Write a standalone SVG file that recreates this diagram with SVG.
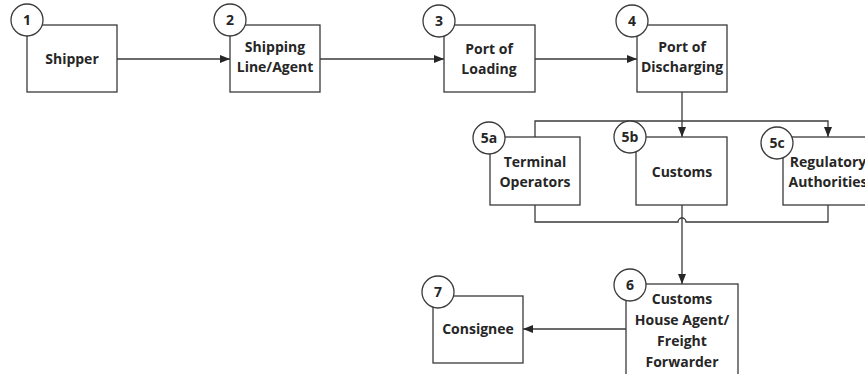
<svg xmlns="http://www.w3.org/2000/svg" width="865" height="374" viewBox="0 0 865 374">
<style>
.box{fill:#fff;stroke:#3a3a3a;stroke-width:1.3}
.num{fill:#fff;stroke:#3a3a3a;stroke-width:1.3}
.t{font-family:"Open Sans","Liberation Sans",sans-serif;font-weight:bold;font-size:14px;fill:#262626;text-anchor:middle}
.c{fill:none;stroke:#3a3a3a;stroke-width:1.3}
</style>
<defs>
<marker id="ah" viewBox="0 0 10 8" refX="10" refY="4" markerWidth="10" markerHeight="8" markerUnits="userSpaceOnUse" orient="auto">
<path d="M0,0 L10,4 L0,8 Z" fill="#262626"/>
</marker>
</defs>
<rect width="865" height="374" fill="#fff"/>
<g id="connectors">
<path class="c" d="M117,59 H230" marker-end="url(#ah)"/>
<path class="c" d="M320,59 H444" marker-end="url(#ah)"/>
<path class="c" d="M535,59 H637" marker-end="url(#ah)"/>
<path class="c" d="M682,92 V137" marker-end="url(#ah)"/>
<path class="c" d="M535,137 V121 H828 V137" marker-end="url(#ah)"/>
<path class="c" d="M535,205 V222 H678 A4,4 0 0 1 686,222 H828 V205"/>
<path class="c" d="M682,205 V284" marker-end="url(#ah)"/>
<path class="c" d="M626,329 H523" marker-end="url(#ah)"/>
</g>
<g id="n1">
<rect class="box" x="27" y="25" width="90" height="67"/>
<circle class="num" cx="27" cy="20" r="16"/>
<text class="t" x="27" y="25">1</text>
<text class="t" x="72" y="64">Shipper</text>
</g>
<g id="n2">
<rect class="box" x="230" y="25" width="90" height="67"/>
<circle class="num" cx="230" cy="20" r="16"/>
<text class="t" x="230" y="25">2</text>
<text class="t" x="275" y="52">Shipping</text>
<text class="t" x="275" y="72">Line/Agent</text>
</g>
<g id="n3">
<rect class="box" x="444" y="25" width="91" height="67"/>
<circle class="num" cx="439" cy="21" r="16"/>
<text class="t" x="439" y="26">3</text>
<text class="t" x="489" y="54">Port of</text>
<text class="t" x="489" y="74">Loading</text>
</g>
<g id="n4">
<rect class="box" x="637" y="25" width="90" height="67"/>
<circle class="num" cx="632" cy="21" r="16"/>
<text class="t" x="632" y="26">4</text>
<text class="t" x="682" y="52">Port of</text>
<text class="t" x="682" y="72">Discharging</text>
</g>
<g id="n5a">
<rect class="box" x="490" y="137" width="90" height="68"/>
<circle class="num" cx="489" cy="138" r="16"/>
<text class="t" x="489" y="143">5a</text>
<text class="t" x="535" y="167">Terminal</text>
<text class="t" x="535" y="187">Operators</text>
</g>
<g id="n5b">
<rect class="box" x="636" y="137" width="91" height="68"/>
<circle class="num" cx="630" cy="137" r="16"/>
<text class="t" x="630" y="142">5b</text>
<text class="t" x="682" y="177">Customs</text>
</g>
<g id="n5c">
<rect class="box" x="783" y="137" width="90" height="68"/>
<circle class="num" cx="777" cy="143" r="16"/>
<text class="t" x="777" y="148">5c</text>
<text class="t" x="828" y="167">Regulatory</text>
<text class="t" x="828" y="187">Authorities</text>
</g>
<g id="n6">
<rect class="box" x="626" y="284" width="112" height="100"/>
<circle class="num" cx="630" cy="285" r="16"/>
<text class="t" x="630" y="290">6</text>
<text class="t" x="682" y="304">Customs</text>
<text class="t" x="682" y="325">House Agent/</text>
<text class="t" x="682" y="346">Freight</text>
<text class="t" x="682" y="367">Forwarder</text>
</g>
<g id="n7">
<rect class="box" x="433" y="296" width="90" height="67"/>
<circle class="num" cx="438" cy="292" r="16"/>
<text class="t" x="438" y="297">7</text>
<text class="t" x="478" y="334">Consignee</text>
</g>
</svg>
